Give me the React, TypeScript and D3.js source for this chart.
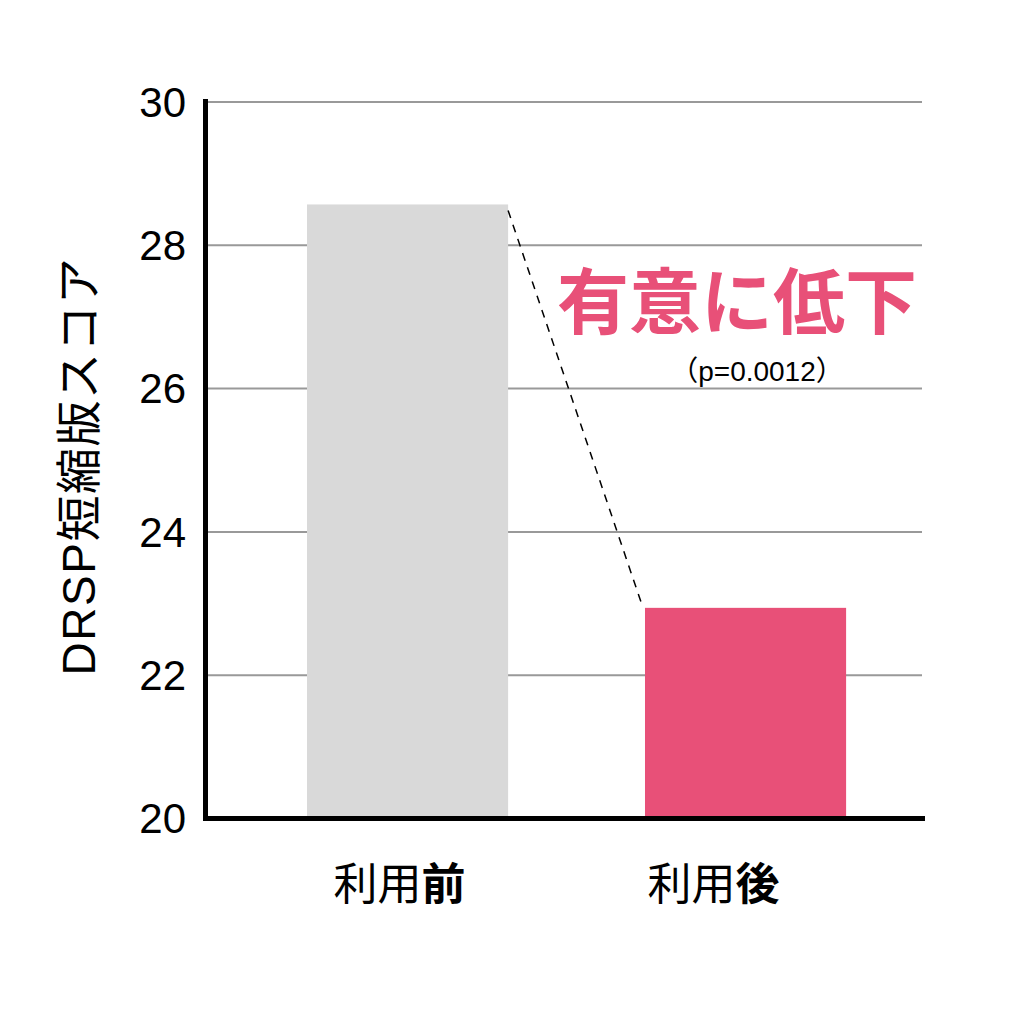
import React from "react";
import * as d3 from "d3";

const categories = ["利用前", "利用後"];
const boldChars = ["前", "後"];
const scores = [28.57, 22.94];
const yTicks = [20, 22, 24, 26, 28, 30];
const yTitle = "DRSP短縮版スコア";
const annotation = "有意に低下";
const pValue = "（p=0.0012）";

const barColors = ["#d9d9d9", "#e85078"];
const FONT = "'Liberation Sans', 'Noto Sans CJK JP', sans-serif";

const App = () => {
  const width = 1024;
  const height = 1024;
  const left = 205.5;
  const right = 922;
  const bottom = 818.5;

  const y = d3.scaleLinear().domain([20, 30]).range([818.5, 102]);
  const x = d3
    .scaleBand()
    .domain(categories)
    .range([205.6, 947.5])
    .paddingInner(0.405)
    .paddingOuter(0.3);

  const bw = x.bandwidth();
  const x1 = (x(categories[0]) as number) + bw;
  const x2 = x(categories[1]) as number;

  return (
    <svg
      width={width}
      height={height}
      viewBox={`0 0 ${width} ${height}`}
      style={{ position: "absolute", left: 0, top: 0, background: "#fff" }}
      fontFamily={FONT}
    >
      {/* gridlines */}
      {yTicks.map((t) => (
        <line
          key={t}
          x1={left}
          x2={right}
          y1={y(t)}
          y2={y(t)}
          stroke="#999"
          strokeWidth={2}
        />
      ))}

      {/* bars */}
      {categories.map((c, i) => (
        <rect
          key={c}
          x={x(c)}
          y={y(scores[i])}
          width={bw}
          height={y(20) - y(scores[i])}
          fill={barColors[i]}
        />
      ))}

      {/* dashed connector */}
      <line
        x1={x1}
        y1={y(scores[0]) + 6}
        x2={x2 - 2}
        y2={y(scores[1])}
        stroke="#000"
        strokeWidth={1.5}
        strokeDasharray="8,7"
      />

      {/* axes */}
      <line x1={left} x2={left} y1={99} y2={bottom + 2.5} stroke="#000" strokeWidth={5} />
      <line x1={left - 2.5} x2={925} y1={bottom} y2={bottom} stroke="#000" strokeWidth={5} />

      {/* y tick labels */}
      {yTicks.map((t) => (
        <text
          key={t}
          x={186}
          y={y(t)}
          dy="0.35em"
          textAnchor="end"
          fontSize={42}
          fill="#000"
        >
          {t}
        </text>
      ))}

      {/* y title */}
      <text
        transform={`translate(95,466) rotate(-90)`}
        textAnchor="middle"
        fontSize={46}
        letterSpacing={1.5}
        fill="#000"
      >
        {yTitle}
      </text>

      {/* category labels */}
      {categories.map((c, i) => (
        <text
          key={c}
          x={(x(c) as number) + bw / 2}
          dx={i === 0 ? -8 : -32}
          y={900}
          textAnchor="middle"
          fontSize={44}
          fill="#000"
          fontFamily="'Noto Sans CJK JP', sans-serif"
        >
          {c.slice(0, -1)}
          <tspan fontWeight="bold">{boldChars[i]}</tspan>
        </text>
      ))}

      {/* annotation */}
      <text
        x={737}
        y={296}
        dominantBaseline="central"
        textAnchor="middle"
        fontSize={72}
        fontWeight="bold"
        fill={barColors[1]}
        fontFamily="'Noto Sans CJK JP', sans-serif"
      >
        {annotation}
      </text>
      <text
        x={757}
        y={371}
        dominantBaseline="central"
        textAnchor="middle"
        fontSize={28}
        fill="#000"
      >
        {pValue}
      </text>
    </svg>
  );
};

export default App;
